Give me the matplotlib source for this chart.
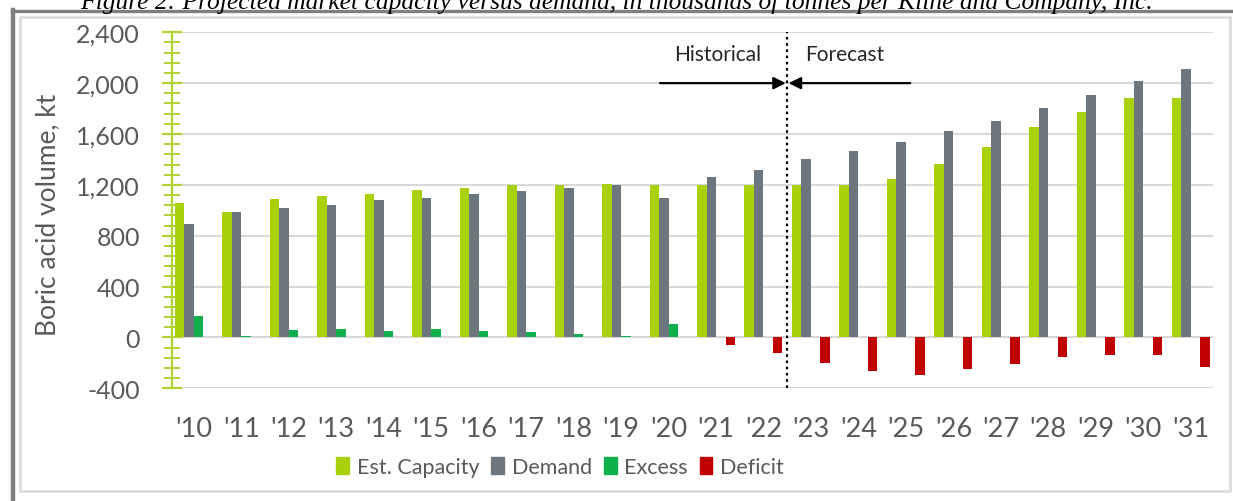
import matplotlib
matplotlib.use("Agg")
import matplotlib.pyplot as plt
from matplotlib.patches import Rectangle, Patch
from matplotlib.lines import Line2D
from matplotlib.ticker import MultipleLocator, FuncFormatter
import numpy as np

plt.rcParams['font.family'] = ['Lato', 'DejaVu Sans']

# Boric acid market, kt per year
years = ["'10", "'11", "'12", "'13", "'14", "'15", "'16", "'17", "'18", "'19", "'20",
         "'21", "'22", "'23", "'24", "'25", "'26", "'27", "'28", "'29", "'30", "'31"]
capacity = [1060, 990, 1090, 1110, 1130, 1160, 1175, 1195, 1200, 1210, 1200,
            1200, 1200, 1200, 1200, 1245, 1365, 1500, 1655, 1775, 1880, 1880]
demand = [890, 985, 1020, 1040, 1080, 1095, 1125, 1150, 1175, 1200, 1095,
          1260, 1315, 1400, 1470, 1535, 1620, 1705, 1805, 1910, 2015, 2110]
excess = [170, 10, 60, 70, 50, 65, 50, 45, 25, 10, 105,
          0, 0, 0, 0, 0, 0, 0, 0, 0, 0, 0]
deficit = [0, 0, 0, 0, 0, 0, 0, 0, 0, 0, 0,
           -60, -120, -200, -265, -295, -250, -205, -150, -135, -135, -230]
series_names = ['Est. Capacity', 'Demand', 'Excess', 'Deficit']

C_CAP = '#a8d10c'
C_DEM = '#6c767f'
C_EXC = '#0db04b'
C_DEF = '#c00000'
AXIS_GREEN = '#b2d234'
TXT = '#595959'

fig = plt.figure(figsize=(12.33, 5.02), dpi=100)
ax = fig.add_axes([0.1395, 0.2245, 0.8443, 0.7092])

x = np.arange(len(years))
w = 0.2
ax.bar(x - 1.5 * w, capacity, w, color=C_CAP, zorder=3)
ax.bar(x - 0.5 * w, demand, w, color=C_DEM, zorder=3)
ax.bar(x + 0.5 * w, excess, w, color=C_EXC, zorder=3)
ax.bar(x + 1.5 * w, deficit, w, color=C_DEF, zorder=3)

ax.set_xlim(-0.46, 21.47)
ax.set_ylim(-400, 2400)
ax.yaxis.set_major_locator(MultipleLocator(400))
ax.yaxis.set_minor_locator(MultipleLocator(80))
ax.yaxis.set_major_formatter(FuncFormatter(lambda v, p: f'{int(v):,}'))
ax.grid(axis='y', color='#d9d9d9', linewidth=1.5, zorder=0)
ax.set_axisbelow(True)

for s in ['top', 'right', 'bottom']:
    ax.spines[s].set_visible(False)
ax.spines['left'].set_color(AXIS_GREEN)
ax.spines['left'].set_linewidth(1.6)

ax.tick_params(axis='y', which='major', direction='inout', length=14, width=1.6,
               color=AXIS_GREEN, labelsize=18, labelcolor=TXT, pad=16)
ax.tick_params(axis='y', which='minor', direction='inout', length=11, width=1.4,
               color=AXIS_GREEN)
ax.set_xticks(x)
ax.set_xticklabels(years)
ax.tick_params(axis='x', length=0, labelsize=19.5, labelcolor=TXT, pad=20)
ax.set_ylabel('Boric acid volume, kt', fontsize=19, color=TXT)
ax.yaxis.set_label_coords(-0.107, 0.49)

# historical / forecast split
ax.axvline(12.5, ymin=0, ymax=1, color='black', linestyle=(0, (1.2, 1.6)),
           linewidth=1.6, zorder=4)
ax.annotate('', xy=(12.47, 2000), xytext=(9.82, 2000),
            arrowprops=dict(arrowstyle='-|>', color='black', lw=1.6,
                            mutation_scale=18, shrinkA=0, shrinkB=0), zorder=5)
ax.annotate('', xy=(12.53, 2000), xytext=(15.09, 2000),
            arrowprops=dict(arrowstyle='-|>', color='black', lw=1.6,
                            mutation_scale=18, shrinkA=0, shrinkB=0), zorder=5)
ax.text(11.04, 2230, 'Historical', ha='center', va='center', fontsize=15,
        color='#262626')
ax.text(13.72, 2230, 'Forecast', ha='center', va='center', fontsize=15,
        color='#262626')

handles = [Patch(color=c) for c in (C_CAP, C_DEM, C_EXC, C_DEF)]
fig.legend(handles, series_names, loc='center', bbox_to_anchor=(560 / 1233, 0.068),
           ncol=4, frameon=False, fontsize=15.5, labelcolor=TXT,
           handlelength=0.6, handleheight=0.8, handletextpad=0.35,
           columnspacing=0.55)

# frame around the chart
H, W = 502, 1233
fig.add_artist(Rectangle((20 / W, 1 - 492 / H), 1210 / W, 474 / H,
                         transform=fig.transFigure, fill=False,
                         edgecolor='#d9d9d9', linewidth=1.8))
fig.add_artist(Line2D([13 / W, 13 / W], [0, 1 - 11 / H], transform=fig.transFigure,
                      color='#7f7f7f', linewidth=3.2))
fig.add_artist(Line2D([11.5 / W, 1], [1 - 11.5 / H, 1 - 11.5 / H],
                      transform=fig.transFigure, color='#7f7f7f', linewidth=2.4))

fig.text(0.5, 1 - 9 / H,
         'Figure 2: Projected market capacity versus demand, in thousands of tonnes '
         'per Kline and Company, Inc.',
         ha='center', va='baseline', fontsize=18.4, style='italic',
         family=['Liberation Serif', 'DejaVu Serif'], color='black')

fig.savefig('out.png', dpi=100)
